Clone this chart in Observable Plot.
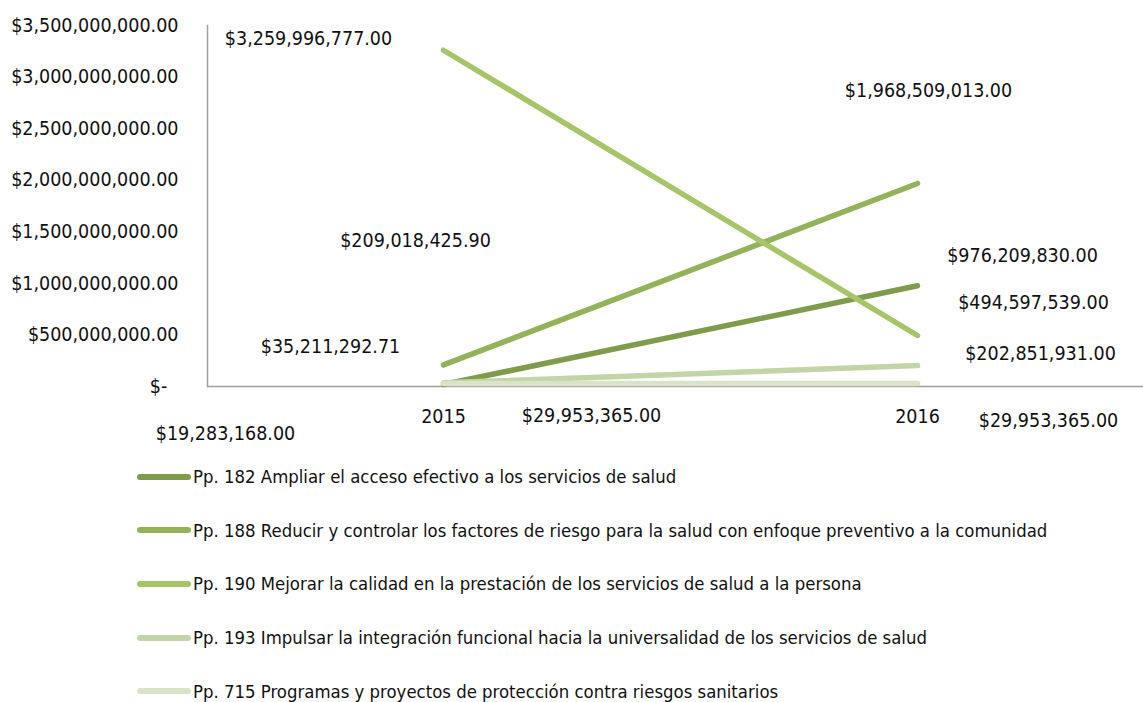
<!DOCTYPE html>
<html><head><meta charset="utf-8">
<script src="https://cdn.jsdelivr.net/npm/d3@7"></script>
<script src="https://cdn.jsdelivr.net/npm/@observablehq/plot@0.6"></script>
<style>
body{margin:0;background:#fff;overflow:hidden;}
#chart svg{display:block;}
.legend{font-family:"DejaVu Sans Condensed",sans-serif;font-size:18.4px;color:#111;}
.row{height:53.6px;display:flex;align-items:center;padding-left:137px;white-space:nowrap;}
.sw{width:54px;height:6px;border-radius:3px;margin-right:2px;flex:none;}
</style></head><body>
<div id="chart"></div><div class="legend" id="legend"></div>
<script>
const years = ["2015", "2016"];
const seriesNames = [
  "Pp. 182 Ampliar el acceso efectivo a los servicios de salud",
  "Pp. 188 Reducir y controlar los factores de riesgo para la salud con enfoque preventivo a la comunidad",
  "Pp. 190 Mejorar la calidad en la prestación de los servicios de salud a la persona",
  "Pp. 193 Impulsar la integración funcional hacia la universalidad de los servicios de salud",
  "Pp. 715 Programas y proyectos de protección contra riesgos sanitarios"
];
const values2015 = [19283168.00, 209018425.90, 3259996777.00, 35211292.71, 29953365.00];
const values2016 = [976209830.00, 1968509013.00, 494597539.00, 202851931.00, 29953365.00];
const yTicks = [0, 500000000, 1000000000, 1500000000, 2000000000, 2500000000, 3000000000, 3500000000];
const colors = ["#7f9b4c", "#93b25a", "#a6c468", "#c3d5a6", "#d8e3c8"];

const data = [];
seriesNames.forEach((s, i) => {
  data.push({series: s, idx: i, year: years[0], value: values2015[i]});
  data.push({series: s, idx: i, year: years[1], value: values2016[i]});
});

const money = v => "$" + d3.format(",.2f")(v);
// label placement offsets (style), per series index and year
const offsets = {
  "0-2015": [-218, 49], "1-2015": [-28, -124], "2-2015": [-135, -12], "3-2015": [-113, -36], "4-2015": [148, 32],
  "0-2016": [105, -30], "1-2016": [11, -93], "2-2016": [116, -33], "3-2016": [123, -12], "4-2016": [131, 37]
};
const labelMarks = data.map(d => {
  const [dx, dy] = offsets[d.idx + "-" + d.year];
  return Plot.text([d], {x: "year", y: "value", text: d => money(d.value), dx, dy,
    fontSize: 19.5, fill: "#111", textAnchor: "middle"});
});

const chart = Plot.plot({
  width: 1143,
  height: 450,
  marginTop: 25,
  marginBottom: 64,
  marginLeft: 207,
  marginRight: 0,
  style: {fontFamily: "'DejaVu Sans Condensed', sans-serif", fontSize: "20px", color: "#111", background: "#fff"},
  x: {type: "point", domain: years, range: [443, 917], padding: 0, label: null},
  y: {domain: [0, 3500000000], ticks: yTicks, label: null},
  color: {domain: seriesNames, range: colors},
  marks: [
    Plot.axisY({ticks: yTicks, tickSize: 0, tickPadding: 29, fontSize: 19.5, label: null,
      tickFormat: d => d === 0 ? "$-\u2007" : money(d)}),
    Plot.axisX({tickSize: 0, tickPadding: 23, fontSize: 19.5, label: null}),
    Plot.frame({anchor: "left", stroke: "#a0a0a0", strokeWidth: 1.5}),
    Plot.ruleY([0], {stroke: "#a0a0a0", strokeWidth: 1.5}),
    Plot.line(data, {x: "year", y: "value", z: "series", stroke: "series", strokeWidth: 5.5, strokeLinecap: "round"}),
    ...labelMarks
  ]
});
document.getElementById("chart").appendChild(chart);

const leg = document.getElementById("legend");
seriesNames.forEach((s, i) => {
  const row = document.createElement("div");
  row.className = "row";
  const sw = document.createElement("span");
  sw.className = "sw"; sw.style.background = colors[i];
  const t = document.createElement("span");
  t.textContent = s;
  row.appendChild(sw); row.appendChild(t);
  leg.appendChild(row);
});
</script>
</body></html>
